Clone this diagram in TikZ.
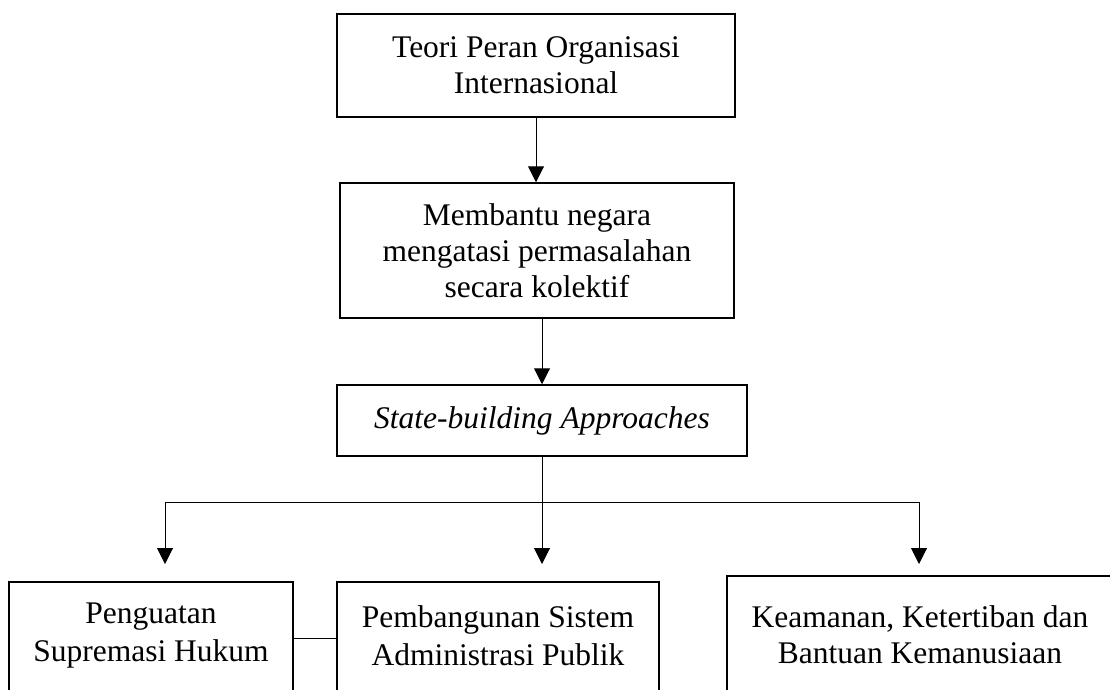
\documentclass[tikz,border=0pt]{standalone}
\usepackage{fontspec}
\setmainfont{Liberation Serif}
\usetikzlibrary{arrows.meta}
\tikzset{
  boxnode/.style={draw=black, line width=1.5pt, rectangle, inner sep=0pt, align=center,
    font=\fontsize{31.5}{36}\selectfont},
  lbl/.style={inner sep=0pt, align=center, font=\fontsize{31.5}{38}\selectfont},
  conn/.style={draw=black, line width=1pt},
  arr/.style={conn, -{Triangle[width=16pt,length=16pt]}}
}
\begin{document}
\begin{tikzpicture}[x=1pt,y=-1pt]
\useasboundingbox (0,0) rectangle (1110,689);
\clip (0,0) rectangle (1110,689);
\fill[white] (0,0) rectangle (1110,689);

\node[boxnode, minimum width=398pt, minimum height=103pt] (top) at (536,65.5)
  {Teori Peran Organisasi\\Internasional};
\node[boxnode, minimum width=394pt, minimum height=135pt] (mid) at (537,250.5)
  {Membantu negara\\mengatasi permasalahan\\secara kolektif};
\node[boxnode, minimum width=410pt, minimum height=71pt] (sba) at (542,420.5)
  {\itshape State-building Approaches};

\node[boxnode, minimum width=284pt, minimum height=138pt] (b1) at (151,651) {};
\node[boxnode, minimum width=322pt, minimum height=138pt] (b2) at (498,651) {};
\node[boxnode, minimum width=386pt, minimum height=144pt] (b3) at (920,648) {};
\node[lbl] (t1) at (151,635.5) {Penguatan\\Supremasi Hukum};
\node[lbl] (t2) at (498,635.5) {Pembangunan Sistem\\Administrasi Publik};
\node[lbl, font=\fontsize{31.5}{36}\selectfont] (t3) at (920,635) {Keamanan, Ketertiban dan\\Bantuan Kemanusiaan};

\coordinate (bus) at (542,502);
\coordinate (busL) at (165,502);
\coordinate (busR) at (919,502);
\coordinate (e1) at (165,564);
\coordinate (e2) at (542,564);
\coordinate (e3) at (919,564);
\coordinate (j) at (0,638);

\draw[arr] (top.south) -- (top.south |- mid.north);
\draw[arr] (sba.north |- mid.south) -- (sba.north);
\draw[conn] (sba.south) -- (bus);
\draw[conn] (busL) -- (busR);
\draw[arr] (busL) -- (e1);
\draw[arr] (bus) -- (e2);
\draw[arr] (busR) -- (e3);
\draw[conn] (b1.east |- j) -- (b2.west |- j);
\end{tikzpicture}
\end{document}
